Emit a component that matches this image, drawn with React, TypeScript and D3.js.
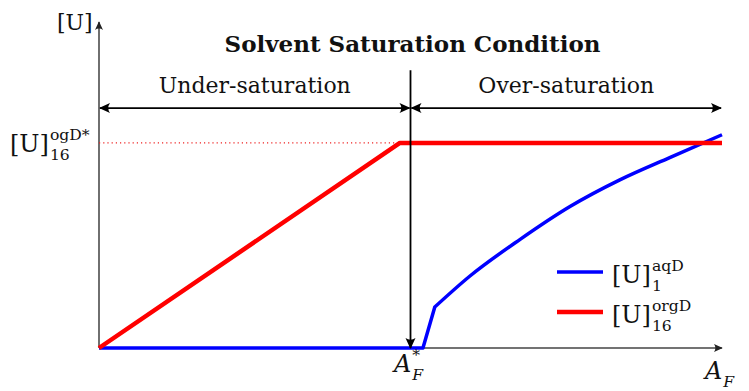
import React, { useEffect, useRef } from "react";
import * as d3 from "d3";

const W = 749;
const H = 391;

// red: organic phase uranium, saturates at the knee
const redX = [0, 4.83, 10];
const redY = [0, 1, 1];

// blue: aqueous phase uranium, rises after A_F*
const blueX = [0, 5.2, 5.39, 5.95, 6.76, 7.56, 8.36, 9.17, 10];
const blueY = [0, 0, 0.2, 0.35, 0.53, 0.69, 0.82, 0.93, 1.04];
const blueKink = 2; // index where the smooth part starts

const satLevel = 1;
const afStar = 5;
const arrowLevel = 1.17;
const dividerTop = 1.355;

const regions = [
  { label: "Under-saturation", from: 0, to: 5 },
  { label: "Over-saturation", from: 5, to: 10 },
];
const title = "Solvent Saturation Condition";

const SERIF = "'DejaVu Serif', serif";

type Pt = [number, number];

export default function App() {
  const svgRef = useRef<SVGSVGElement | null>(null);

  useEffect(() => {
    const svg = d3.select(svgRef.current);
    svg.selectAll("*").remove();

    const x = d3.scaleLinear().domain([0, 10]).range([99, 722]);
    const y = d3.scaleLinear().domain([0, 1.59]).range([348, 22]);

    // stealth-like arrow head
    const defs = svg.append("defs");
    const mk = (id: string, size: number, color: string) => {
      defs
        .append("marker")
        .attr("id", id)
        .attr("markerUnits", "userSpaceOnUse")
        .attr("viewBox", "-12 -6 14 12")
        .attr("refX", 0)
        .attr("refY", 0)
        .attr("markerWidth", 14 * size)
        .attr("markerHeight", 12 * size)
        .attr("orient", "auto-start-reverse")
        .append("path")
        .attr("d", "M1,0 L-10,-5 Q-6.5,0 -10,5 Z")
        .attr("fill", color);
    };
    mk("arr", 1, "#000");
    mk("axarr", 0.8, "#222");

    // axes
    svg
      .append("line")
      .attr("x1", x(0)).attr("y1", y(0))
      .attr("x2", x(10)).attr("y2", y(0))
      .attr("stroke", "#444").attr("stroke-width", 1.3)
      .attr("marker-end", "url(#axarr)");
    svg
      .append("line")
      .attr("x1", x(0)).attr("y1", y(0))
      .attr("x2", x(0)).attr("y2", y(1.59))
      .attr("stroke", "#222").attr("stroke-width", 1.3)
      .attr("marker-end", "url(#axarr)");

    // dotted saturation guide
    svg
      .append("line")
      .attr("x1", x(0)).attr("y1", y(satLevel))
      .attr("x2", x(redX[1])).attr("y2", y(satLevel))
      .attr("stroke", "#e22").attr("stroke-width", 1.2)
      .attr("stroke-dasharray", "1.2,3");

    const lineGen = d3
      .line<Pt>()
      .x((d) => x(d[0]))
      .y((d) => y(d[1]));
    const smoothGen = d3
      .line<Pt>()
      .x((d) => x(d[0]))
      .y((d) => y(d[1]))
      .curve(d3.curveMonotoneX);

    const blue: Pt[] = blueX.map((v, i) => [v, blueY[i]]);
    const red: Pt[] = redX.map((v, i) => [v, redY[i]]);

    const bluePath =
      (lineGen(blue.slice(0, blueKink + 1)) || "") +
      (smoothGen(blue.slice(blueKink)) || "").replace(/^M[^CL]*/, "");

    svg
      .append("path")
      .attr("fill", "none")
      .attr("stroke", "#0000ff")
      .attr("stroke-width", 3.5)
      .attr("stroke-linejoin", "round")
      .attr("d", bluePath);

    svg
      .append("path")
      .datum(red)
      .attr("fill", "none")
      .attr("stroke", "#ff0000")
      .attr("stroke-width", 4.5)
      .attr("stroke-linejoin", "round")
      .attr("d", lineGen);

    // divider arrow at A_F*
    svg
      .append("line")
      .attr("x1", x(afStar)).attr("y1", y(dividerTop))
      .attr("x2", x(afStar)).attr("y2", y(0))
      .attr("stroke", "#000").attr("stroke-width", 1.8)
      .attr("marker-end", "url(#arr)");

    // region arrows + labels
    regions.forEach((r) => {
      svg
        .append("line")
        .attr("x1", x(r.from) + 1).attr("y1", y(arrowLevel))
        .attr("x2", x(r.to) - 1).attr("y2", y(arrowLevel))
        .attr("stroke", "#000").attr("stroke-width", 1.8)
        .attr("marker-start", "url(#arr)")
        .attr("marker-end", "url(#arr)");
      svg
        .append("text")
        .attr("x", (x(r.from) + x(r.to)) / 2)
        .attr("y", 93)
        .attr("text-anchor", "middle")
        .attr("font-family", SERIF)
        .attr("font-size", 22)
        .attr("fill", "#111")
        .text(r.label);
    });

    svg
      .append("text")
      .attr("x", x(afStar) + 2)
      .attr("y", 52)
      .attr("text-anchor", "middle")
      .attr("font-family", SERIF)
      .attr("font-weight", "bold")
      .attr("font-size", 23)
      .attr("fill", "#111")
      .text(title);

    // base text with superscript / subscript
    const math = (
      px: number,
      py: number,
      base: string,
      sup: string,
      sub: string,
      size: number,
      italic = false
    ) => {
      const g = svg.append("g");
      const t = g
        .append("text")
        .attr("x", px)
        .attr("y", py)
        .attr("font-family", SERIF)
        .attr("font-style", italic ? "italic" : "normal")
        .attr("font-size", size)
        .attr("fill", "#111")
        .text(base);
      const w = (t.node() as SVGTextElement).getComputedTextLength();
      if (sup)
        g.append("text")
          .attr("x", px + w + 1)
          .attr("y", py - size * 0.5)
          .attr("font-family", SERIF)
          .attr("font-size", size * 0.65)
          .attr("fill", "#111")
          .text(sup);
      if (sub)
        g.append("text")
          .attr("x", px + w + 1)
          .attr("y", py + size * 0.33)
          .attr("font-family", SERIF)
          .attr("font-style", italic ? "italic" : "normal")
          .attr("font-size", size * 0.65)
          .attr("fill", "#111")
          .text(sub);
    };

    math(57, 30, "[U]", "", "", 22);
    math(10, 152, "[U]", "ogD*", "16", 24);
    math(394, 372, "A", "*", "F", 24, true);
    math(705, 379, "A", "", "F", 24, true);

    // legend
    const legend = [
      { color: "#0000ff", w: 3.5, sup: "aqD", sub: "1", yy: 272 },
      { color: "#ff0000", w: 4.5, sup: "orgD", sub: "16", yy: 312 },
    ];
    legend.forEach((l) => {
      svg
        .append("line")
        .attr("x1", 557).attr("x2", 603)
        .attr("y1", l.yy).attr("y2", l.yy)
        .attr("stroke", l.color).attr("stroke-width", l.w);
      math(612, l.yy + 11, "[U]", l.sup, l.sub, 24);
    });
  }, []);

  return (
    <svg
      ref={svgRef}
      width={W}
      height={H}
      style={{ position: "absolute", left: 0, top: 0, background: "#fff" }}
    />
  );
}
